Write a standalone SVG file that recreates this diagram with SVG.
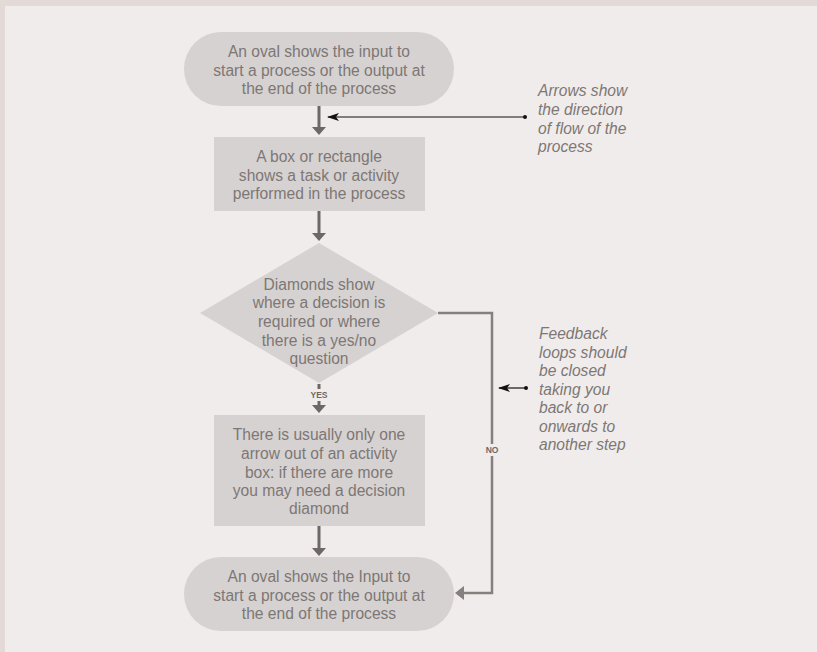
<svg xmlns="http://www.w3.org/2000/svg" width="817" height="652" viewBox="0 0 817 652">
  <style>
    .shape { fill: #d6d2d1; }
    .label { font-family: "Liberation Sans", Arial, sans-serif; font-size: 15.6px; fill: #7d7775; text-anchor: middle; dominant-baseline: central; }
    .note { font-family: "Liberation Sans", Arial, sans-serif; font-size: 15.6px; font-style: italic; fill: #7d7775; dominant-baseline: central; }
    .flow { stroke: #6d6866; stroke-width: 3; fill: none; }
    .loop { stroke: #857f7e; stroke-width: 2.5; fill: none; }
    .pointer { stroke: #111; stroke-width: 1.2; fill: none; }
    .tag { font-family: "Liberation Sans", Arial, sans-serif; font-size: 8.5px; font-weight: bold; fill: #6d6866; text-anchor: middle; dominant-baseline: central; }
  </style>
  <defs>
    <marker id="headPointer" viewBox="0 0 12 8" refX="11" refY="4" markerWidth="12" markerHeight="8" markerUnits="userSpaceOnUse" orient="auto">
      <path d="M0,0 L12,4 L0,8 L3,4 Z" fill="#111"/>
    </marker>
    <marker id="dot" viewBox="0 0 4 4" refX="2" refY="2" markerWidth="4" markerHeight="4" markerUnits="userSpaceOnUse">
      <circle cx="2" cy="2" r="2" fill="#111"/>
    </marker>
  </defs>

  <!-- page frame -->
  <rect x="0" y="0" width="817" height="652" fill="#e3dad7"/>
  <rect x="5" y="6" width="812" height="646" fill="#f0eceb"/>

  <!-- connectors -->
  <g id="connectors">
    <line class="flow" x1="319" y1="106" x2="319" y2="129"/>
    <path d="M312,127 L326,127 L319,135 Z" fill="#6d6866"/>
    <line class="flow" x1="319" y1="211" x2="319" y2="235"/>
    <path d="M312,233 L326,233 L319,241 Z" fill="#6d6866"/>
    <line stroke="#6d6866" stroke-width="3" x1="319" y1="384" x2="319" y2="389"/>
    <line class="flow" x1="319" y1="401" x2="319" y2="407"/>
    <path d="M312,405 L326,405 L319,413 Z" fill="#6d6866"/>
    <line class="flow" x1="319" y1="526" x2="319" y2="550"/>
    <path d="M312,548 L326,548 L319,556 Z" fill="#6d6866"/>
    <!-- NO loop back into the end oval -->
    <path class="loop" d="M438,313 L492,313 L492,593 L463,593"/>
    <path d="M464,586 L464,600 L455,593 Z" fill="#857f7e"/>
    <rect x="483" y="444" width="18" height="12" fill="#f0eceb"/>
    <text class="tag" x="492" y="450">NO</text>
    <text class="tag" x="319" y="395">YES</text>
    <!-- annotation pointers -->
    <line class="pointer" x1="525" y1="117" x2="328" y2="117" marker-start="url(#dot)" marker-end="url(#headPointer)"/>
    <line class="pointer" x1="526" y1="388" x2="499" y2="388" marker-start="url(#dot)" marker-end="url(#headPointer)"/>
  </g>

  <g id="start">
    <rect class="shape" x="184" y="32" width="270" height="74" rx="37"/>
    <text class="label" x="319" y="51">An oval shows the input to</text>
    <text class="label" x="319" y="70">start a process or the output at</text>
    <text class="label" x="319" y="88">the end of the process</text>
  </g>

  <g id="task">
    <rect class="shape" x="214" y="137" width="211" height="74"/>
    <text class="label" x="319" y="156">A box or rectangle</text>
    <text class="label" x="319" y="175">shows a task or activity</text>
    <text class="label" x="319" y="193">performed in the process</text>
  </g>

  <g id="decision">
    <polygon class="shape" points="319,243 438,313 319,383 200,313"/>
    <text class="label" x="319" y="284">Diamonds show</text>
    <text class="label" x="319" y="302">where a decision is</text>
    <text class="label" x="319" y="321">required or where</text>
    <text class="label" x="319" y="340">there is a yes/no</text>
    <text class="label" x="319" y="358">question</text>
  </g>

  <g id="activity">
    <rect class="shape" x="214" y="415" width="211" height="111"/>
    <text class="label" x="319" y="434">There is usually only one</text>
    <text class="label" x="319" y="453">arrow out of an activity</text>
    <text class="label" x="319" y="472">box: if there are more</text>
    <text class="label" x="319" y="490">you may need a decision</text>
    <text class="label" x="319" y="508">diamond</text>
  </g>

  <g id="end">
    <rect class="shape" x="184" y="557" width="270" height="74" rx="37"/>
    <text class="label" x="319" y="576">An oval shows the Input to</text>
    <text class="label" x="319" y="595">start a process or the output at</text>
    <text class="label" x="319" y="613">the end of the process</text>
  </g>

  <g id="note-arrows">
    <text class="note" x="538" y="90">Arrows show</text>
    <text class="note" x="538" y="109">the direction</text>
    <text class="note" x="538" y="128">of flow of the</text>
    <text class="note" x="538" y="146">process</text>
  </g>

  <g id="note-feedback">
    <text class="note" x="539" y="333">Feedback</text>
    <text class="note" x="539" y="352">loops should</text>
    <text class="note" x="539" y="370">be closed</text>
    <text class="note" x="539" y="389">taking you</text>
    <text class="note" x="539" y="407">back to or</text>
    <text class="note" x="539" y="426">onwards to</text>
    <text class="note" x="539" y="444">another step</text>
  </g>
</svg>
